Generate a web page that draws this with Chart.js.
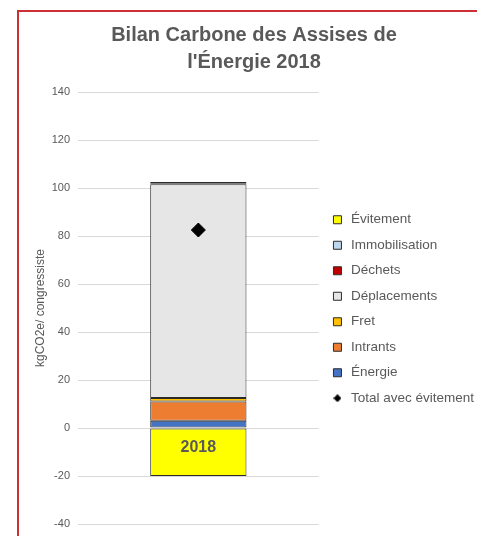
<!DOCTYPE html>
<html lang="fr">
<head>
    <meta charset="UTF-8">
    <title>Bilan Carbone des Assises de l'Énergie 2018</title>
    <script src="https://cdnjs.cloudflare.com/ajax/libs/Chart.js/4.4.1/chart.umd.min.js"></script>
    <style>
        html, body { margin: 0; padding: 0; background: #fff; overflow: hidden; }
        .chart-container { position: absolute; left: 0; top: 0; width: 477px; height: 536px; }
        .frame { position: absolute; left: 17px; top: 10px; width: 520px; height: 600px;
                 border-left: 2px solid #cc2f36; border-top: 2px solid #cc2f36; pointer-events: none; }
    </style>
</head>
<body>
    <div class="chart-container"><canvas id="bilanChart"></canvas></div>
    <div class="frame"></div>
    <script>
        // Données (kgCO2e / congressiste)
        const categories = ['2018'];
        const energie = [3];
        const intrants = [8];
        const fret = [1.5];
        const deplacements = [89.1];
        const dechets = [0.4];
        const immobilisation = [0.5];
        const evitement = [-20];
        const totalAvecEvitement = [82.5];

        const legendOrder = ['Évitement', 'Immobilisation', 'Déchets', 'Déplacements', 'Fret', 'Intrants', 'Énergie', 'Total avec évitement'];
        const yTicks = { min: -40, max: 140, step: 20 };

        const grey = '#595959';
        const edge = '#2b2b2b';

        function barSet(label, data, color) {
            return {
                label: label,
                data: data,
                backgroundColor: color,
                borderColor: edge,
                borderWidth: 1,
                borderSkipped: false,
                pointStyle: 'rect',
                stack: 'bilan',
                categoryPercentage: 1,
                barPercentage: 0.4
            };
        }

        // petit losange pour la légende
        const legendDiamond = document.createElement('canvas');
        legendDiamond.width = 8;
        legendDiamond.height = 8;
        (function () {
            const c = legendDiamond.getContext('2d');
            c.fillStyle = '#000';
            c.beginPath();
            c.moveTo(4, 0); c.lineTo(8, 4); c.lineTo(4, 8); c.lineTo(0, 4);
            c.closePath();
            c.fill();
        })();

        // étiquette de catégorie posée sur l'axe zéro
        const categoryLabel = {
            id: 'categoryLabel',
            afterDatasetsDraw(chart) {
                const ctx = chart.ctx;
                const x = chart.scales.x.getPixelForValue(0);
                const y = chart.scales.y.getPixelForValue(0);
                ctx.save();
                ctx.font = 'bold 16px "Liberation Sans", Arial, sans-serif';
                ctx.fillStyle = grey;
                ctx.textAlign = 'center';
                ctx.textBaseline = 'middle';
                ctx.fillText(categories[0], x, y + 20);
                ctx.restore();
            }
        };

        Chart.defaults.font.family = '"Liberation Sans", Arial, sans-serif';
        Chart.defaults.color = grey;

        const ctx = document.getElementById('bilanChart').getContext('2d');
        new Chart(ctx, {
            type: 'bar',
            data: {
                labels: categories,
                datasets: [
                    barSet('Énergie', energie, '#4472c4'),
                    barSet('Intrants', intrants, '#ed7d31'),
                    barSet('Fret', fret, '#ffc000'),
                    barSet('Déplacements', deplacements, '#e6e6e6'),
                    barSet('Déchets', dechets, '#c00000'),
                    barSet('Immobilisation', immobilisation, '#bdd7ee'),
                    barSet('Évitement', evitement, '#ffff00'),
                    {
                        type: 'line',
                        label: 'Total avec évitement',
                        data: totalAvecEvitement,
                        stack: 'total',
                        order: -1,
                        showLine: false,
                        pointStyle: 'rectRot',
                        pointRadius: 7,
                        pointBackgroundColor: '#000',
                        pointBorderColor: '#000',
                        backgroundColor: '#000',
                        borderColor: '#000'
                    }
                ]
            },
            options: {
                responsive: true,
                maintainAspectRatio: false,
                animation: false,
                layout: { autoPadding: false, padding: { left: 24, right: -7, top: 0, bottom: 12 } },
                plugins: {
                    title: {
                        display: true,
                        text: ['Bilan Carbone des Assises de', "l'Énergie 2018"],
                        color: grey,
                        font: { size: 20, weight: 'bold', lineHeight: 1.35 },
                        padding: { top: 22, bottom: 16 }
                    },
                    legend: {
                        position: 'right',
                        maxWidth: 220,
                        title: {
                            // espace vide pour descendre les entrées
                            display: true,
                            text: '',
                            font: { size: 10, lineHeight: 1 },
                            padding: { top: 84, bottom: 0 }
                        },
                        labels: {
                            usePointStyle: true,
                            boxHeight: 8,
                            padding: 12,
                            color: grey,
                            font: { size: 13.5 },
                            sort: (a, b) => legendOrder.indexOf(a.text) - legendOrder.indexOf(b.text),
                            generateLabels(chart) {
                                const items = Chart.defaults.plugins.legend.labels.generateLabels(chart);
                                items.forEach(it => {
                                    if (it.text === 'Total avec évitement') it.pointStyle = legendDiamond;
                                });
                                return items;
                            }
                        }
                    },
                    tooltip: { enabled: false }
                },
                scales: {
                    x: {
                        display: false,
                        stacked: true
                    },
                    y: {
                        stacked: true,
                        min: yTicks.min,
                        max: yTicks.max,
                        ticks: { stepSize: yTicks.step, color: grey, font: { size: 11 }, padding: 0 },
                        grid: { color: '#d9d9d9', drawTicks: true, tickLength: 8, tickColor: 'rgba(0,0,0,0)' },
                        border: { display: false },
                        title: {
                            display: true,
                            text: 'kgCO2e/ congressiste',
                            color: grey,
                            font: { size: 12 },
                            padding: { top: 9, bottom: 4 }
                        },
                        afterFit(scale) { scale.width = 54; }
                    }
                }
            },
            plugins: [categoryLabel]
        });
    </script>
</body>
</html>
